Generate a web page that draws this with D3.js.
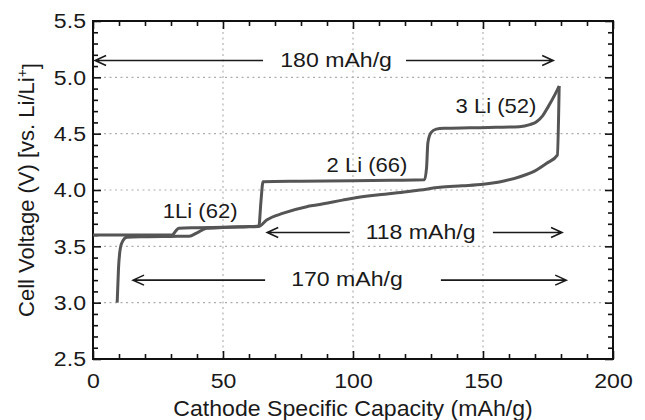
<!DOCTYPE html>
<html>
<head>
<meta charset="utf-8">
<script src="https://cdn.jsdelivr.net/npm/d3@7"></script>
<style>
  body { margin: 0; background: #fff; }
  svg text { font-family: "Liberation Sans", Arial, Helvetica, sans-serif; fill: #1a1a1a; }
</style>
</head>
<body>
<div id="chart"></div>
<script>
// axis ticks
const capTicks = [0, 50, 100, 150, 200];
const voltTicks = [2.5, 3.0, 3.5, 4.0, 4.5, 5.0, 5.5];

// charge curve (upper branch)
const chargeCap = [0, 10, 20, 30.5, 31.6, 33, 40, 50, 60, 63.8, 64.6, 65.4, 80, 100, 115, 127.5, 128.3, 128.8, 130, 132, 135, 145, 155, 164, 168, 170.6, 173, 175.1, 177.5, 179.3];
const chargeVolt = [3.60, 3.60, 3.60, 3.60, 3.63, 3.66, 3.665, 3.67, 3.675, 3.68, 3.90, 4.074, 4.078, 4.082, 4.086, 4.09, 4.20, 4.42, 4.51, 4.54, 4.548, 4.552, 4.556, 4.562, 4.58, 4.606, 4.66, 4.74, 4.84, 4.923];

// discharge curve (lower branch), listed by increasing capacity
const dischargeCap = [9.3, 9.8, 10.5, 11.5, 13, 20, 30, 37, 40, 43.7, 50, 58, 63.6, 66.8, 73.2, 82.2, 86, 96, 100, 110, 120.6, 125.8, 133.5, 142, 150.1, 158, 164.2, 170, 174.5, 178.6, 179.3];
const dischargeVolt = [3.0, 3.3, 3.48, 3.55, 3.58, 3.585, 3.588, 3.59, 3.62, 3.66, 3.667, 3.672, 3.675, 3.734, 3.794, 3.852, 3.867, 3.91, 3.927, 3.958, 3.985, 4.0, 4.024, 4.037, 4.051, 4.08, 4.118, 4.17, 4.237, 4.31, 4.923];

// plateau labels
const plateauLabels = ["1Li (62)", "2 Li (66)", "3 Li (52)"];
const plateauCap = [41.2, 105.4, 155];
const plateauVolt = [3.752, 4.16, 4.684];

// capacity span arrows
const spanLabels = ["180 mAh/g", "118 mAh/g", "170 mAh/g"];
const spanFrom = [0.8, 67, 15.4];
const spanTo = [177, 180.4, 182];
const spanVolt = [5.15, 3.623, 3.2];
const spanTextCap = [93.5, 126, 97.7];
const spanGapFrom = [65.4, 98.8, 66.2];
const spanGapTo = [120.4, 153.8, 133.8];

const margin = { top: 21, right: 32, bottom: 61, left: 93 };
const width = 645 - margin.left - margin.right;
const height = 420 - margin.top - margin.bottom;

// the original lettering is a little wider than Liberation Sans
const stretch = 1.1;

const x = d3.scaleLinear().domain([0, 200]).range([0, width]);
const y = d3.scaleLinear().domain([2.5, 5.5]).range([height, 0]);

const svg = d3.select('#chart')
  .append('svg')
  .attr('width', 645)
  .attr('height', 420)
  .append('g')
  .attr('transform', `translate(${margin.left}, ${margin.top})`);

// dotted grid
const grid = svg.append('g').attr('class', 'grid');
grid.selectAll('line.gx')
  .data(capTicks.slice(1, -1))
  .join('line')
  .attr('x1', d => x(d)).attr('x2', d => x(d))
  .attr('y1', 0).attr('y2', height);
grid.selectAll('line.gy')
  .data(voltTicks.slice(1, -1))
  .join('line')
  .attr('x1', 0).attr('x2', width)
  .attr('y1', d => y(d)).attr('y2', d => y(d));
grid.selectAll('line')
  .style('stroke', '#adadad')
  .style('stroke-width', 1.1)
  .style('stroke-dasharray', '2 3.5');

// minor / major ticks on all four sides (inward)
const minorCap = d3.range(0, 201, 10).filter(d => d % 50 !== 0);
const minorVolt = d3.range(25, 56, 1).map(d => d / 10).filter(d => Math.round(d * 10) % 5 !== 0);

function tickAxis(axisFn, scale, values, size, label) {
  return axisFn(scale).tickValues(values).tickSizeInner(-size).tickSizeOuter(0)
    .tickFormat(label ? label : '');
}

svg.append('g').attr('class', 'xlab').attr('transform', `translate(0, ${height})`)
  .call(tickAxis(d3.axisBottom, x, capTicks, 8, d3.format('d')).tickPadding(14));
svg.append('g').attr('transform', `translate(0, ${height})`)
  .call(tickAxis(d3.axisBottom, x, minorCap, 5));
svg.append('g').call(tickAxis(d3.axisTop, x, capTicks, 8));
svg.append('g').call(tickAxis(d3.axisTop, x, minorCap, 5));

svg.append('g').attr('class', 'ylab')
  .call(tickAxis(d3.axisLeft, y, voltTicks, 8, d3.format('.1f')).tickPadding(6.4));
svg.append('g').call(tickAxis(d3.axisLeft, y, minorVolt, 5));
svg.append('g').attr('transform', `translate(${width}, 0)`).call(tickAxis(d3.axisRight, y, voltTicks, 8));
svg.append('g').attr('transform', `translate(${width}, 0)`).call(tickAxis(d3.axisRight, y, minorVolt, 5));

svg.selectAll('.domain').remove();
svg.selectAll('.tick line').style('stroke', '#111').style('stroke-width', 1.6);
svg.selectAll('.tick text')
  .style('font-size', '21px')
  .style('fill', '#1a1a1a')
  .attr('transform', `scale(${stretch},1)`);

// frame
svg.append('rect')
  .attr('width', width)
  .attr('height', height)
  .style('fill', 'none')
  .style('stroke', '#111')
  .style('stroke-width', 2);

// curves
const line = d3.line()
  .x(d => x(d[0]))
  .y(d => y(d[1]))
  .curve(d3.curveMonotoneX);

const curves = [
  d3.zip(chargeCap, chargeVolt),
  d3.zip(dischargeCap, dischargeVolt)
];
svg.selectAll('path.curve')
  .data(curves)
  .join('path')
  .attr('class', 'curve')
  .attr('d', line)
  .style('fill', 'none')
  .style('stroke', '#555')
  .style('stroke-width', 3)
  .style('stroke-linejoin', 'round');

// span arrows with text in the gap
const spans = spanLabels.map((label, i) => ({
  label, from: spanFrom[i], to: spanTo[i], v: spanVolt[i],
  tx: spanTextCap[i], g0: spanGapFrom[i], g1: spanGapTo[i]
}));
const arrow = svg.selectAll('g.span').data(spans).join('g').attr('class', 'span');
arrow.append('path')
  .attr('d', d => {
    const yy = y(d.v), x0 = x(d.from), x1 = x(d.to);
    return `M${x0},${yy}H${x(d.g0)}M${x(d.g1)},${yy}H${x1}` +
      `M${x0 + 11},${yy - 5}L${x0},${yy}L${x0 + 11},${yy + 5}` +
      `M${x1 - 11},${yy - 5}L${x1},${yy}L${x1 - 11},${yy + 5}`;
  })
  .style('fill', 'none')
  .style('stroke', '#1a1a1a')
  .style('stroke-width', 1.6);
arrow.append('text')
  .attr('transform', d => `translate(${x(d.tx)}, ${y(d.v)}) scale(${stretch},1)`)
  .attr('dy', '0.3em')
  .attr('text-anchor', 'middle')
  .style('font-size', '21px')
  .text(d => d.label);

// plateau labels
svg.selectAll('text.plateau')
  .data(plateauLabels)
  .join('text')
  .attr('class', 'plateau')
  .attr('transform', (d, i) => `translate(${x(plateauCap[i])}, ${y(plateauVolt[i])}) scale(1.05,1)`)
  .attr('text-anchor', 'middle')
  .style('font-size', '21px')
  .text(d => d);

// axis titles
svg.append('text')
  .attr('transform', `translate(${width / 2}, ${height + 57}) scale(1.05,1)`)
  .attr('text-anchor', 'middle')
  .style('font-size', '22px')
  .text('Cathode Specific Capacity (mAh/g)');

const yTitle = svg.append('text')
  .attr('transform', `translate(${34 - margin.left}, ${height / 2}) rotate(-90)`)
  .attr('text-anchor', 'middle')
  .style('font-size', '22px');
yTitle.append('tspan').text('Cell Voltage (V) [vs. Li/Li');
yTitle.append('tspan').attr('dy', '-0.5em').style('font-size', '14px').text('+');
yTitle.append('tspan').attr('dy', '0.5em').text(']');
</script>
</body>
</html>
